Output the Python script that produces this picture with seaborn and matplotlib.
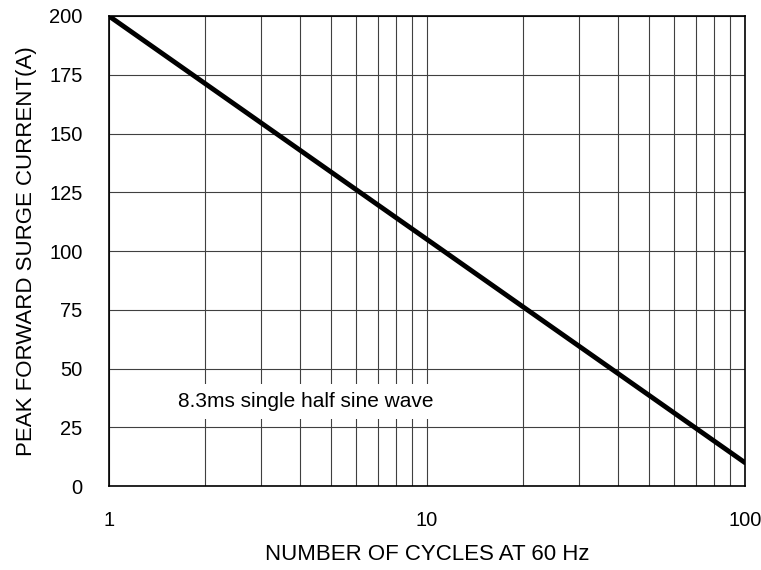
import numpy as np
import pandas as pd
import seaborn as sb
import matplotlib
matplotlib.use("Agg")
import matplotlib.pyplot as plt
from matplotlib.ticker import FixedLocator, LogLocator, NullFormatter

# surge rating curve
cycles = [1, 100]
current = [200, 10]
y_ticks = [0, 25, 50, 75, 100, 125, 150, 175, 200]
x_ticks = [1, 10, 100]
x_tick_labels = ["1", "10", "100"]

sb.set_style("white")
plt.rcParams['font.family'] = ['Liberation Sans', 'DejaVu Sans']

df = pd.DataFrame({"cycles": cycles, "current": current})

fig = plt.figure(figsize=(7.61, 5.70), dpi=100)
ax = fig.add_axes([0.143, 0.147, 0.836, 0.825])
sb.lineplot(data=df, x="cycles", y="current", color="black", linewidth=3.5, ax=ax)

ax.set_xscale("log")
ax.set_xlim(1, 100)
ax.set_ylim(0, 200)
ax.xaxis.set_major_locator(FixedLocator(x_ticks))
ax.set_xticklabels(x_tick_labels)
ax.xaxis.set_minor_locator(LogLocator(base=10, subs=np.arange(2, 10)))
ax.xaxis.set_minor_formatter(NullFormatter())
ax.set_yticks(y_ticks)

ax.grid(True, which="both", color="#404040", linewidth=0.8)
ax.set_axisbelow(True)
for s in ax.spines.values():
    s.set_color("black")
    s.set_linewidth(1.2)
ax.tick_params(axis="both", which="both", length=0, labelsize=14.5, labelcolor="black")
ax.tick_params(axis="x", pad=18)
ax.tick_params(axis="y", pad=19)

ax.set_xlabel("NUMBER OF CYCLES AT 60 Hz", fontsize=16, labelpad=10, color="black")
ax.set_ylabel("PEAK FORWARD SURGE CURRENT(A)", fontsize=16, labelpad=9, color="black")

ax.text(1.65, 36, "8.3ms single half sine wave", fontsize=15, va="center", ha="left",
        color="black", bbox=dict(facecolor="white", edgecolor="none", pad=6))

fig.savefig("out.png", dpi=100)
